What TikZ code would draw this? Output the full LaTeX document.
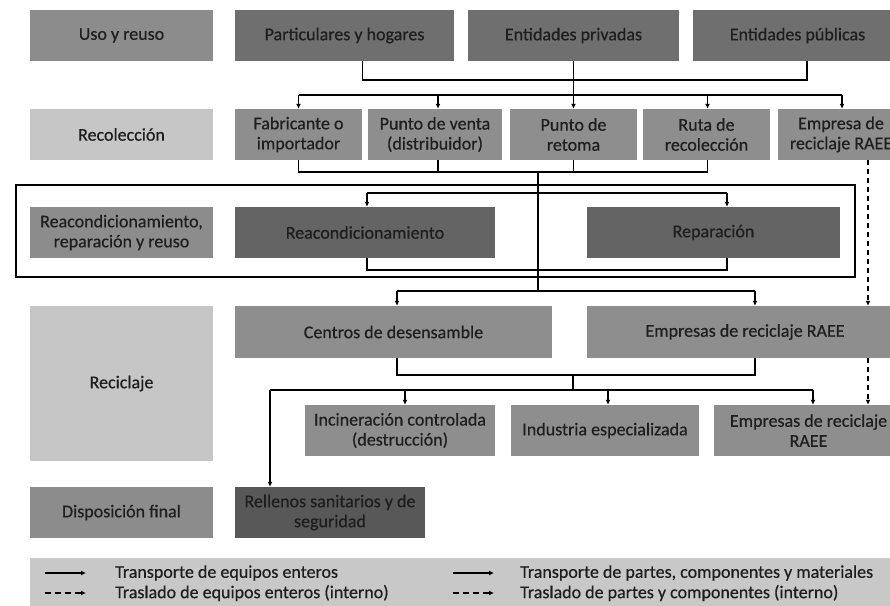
\documentclass[tikz,border=0pt]{standalone}
\usepackage{fontspec}
\setmainfont{Carlito}[FakeBold=0.5]
\usetikzlibrary{arrows.meta}

\definecolor{txt}{HTML}{1E1E1E}
\definecolor{stagemid}{HTML}{8C8C8C}
\definecolor{stagelight}{HTML}{C6C6C6}
\definecolor{actordark}{HTML}{6F6F6F}
\definecolor{actormid}{HTML}{8E8E8E}
\definecolor{procdark}{HTML}{646464}
\definecolor{finaldark}{HTML}{585858}
\definecolor{legendbg}{HTML}{C8C8C8}

\tikzset{
  box/.style={rectangle, inner sep=2pt, align=center, text=txt,
    font=\fontsize{18}{20}\selectfont},
  flow/.style={draw=black, line width=1.2pt, -{Latex[length=5pt,width=5pt]}},
  wire/.style={draw=black, line width=1.2pt},
  internal/.style={draw=black, line width=1.2pt, dash pattern=on 5pt off 4pt,
    -{Latex[length=5pt,width=5pt]}},
  legtext/.style={anchor=west, text=txt, inner sep=0pt,
    font=\fontsize{18}{20}\selectfont},
}

\begin{document}
\begin{tikzpicture}[x=1pt,y=-1pt]
\useasboundingbox (0,0) rectangle (890,605);
\clip (0,0) rectangle (890,605);

% stage labels on the left
\node[box, fill=stagemid,   minimum width=183pt, minimum height=51pt]  (uso)   at (121.5,35.5)  {Uso y reuso};
\node[box, fill=stagelight, minimum width=183pt, minimum height=51pt]  (rec)   at (121.5,134.5) {Recolección};
\node[box, fill=stagemid,   minimum width=183pt, minimum height=51pt]  (reac)  at (121.5,232.5) {Reacondicionamiento,\\reparación y reuso};
\node[box, fill=stagelight, minimum width=183pt, minimum height=155pt] (recic) at (121.5,383.5) {Reciclaje};
\node[box, fill=stagemid,   minimum width=183pt, minimum height=51pt]  (disp)  at (121.5,512.5) {Disposición final};

% use and reuse
\node[box, fill=actordark, minimum width=219pt, minimum height=51pt] (part) at (344.5,35.5) {Particulares y hogares};
\node[box, fill=actordark, minimum width=211pt, minimum height=51pt] (priv) at (573.5,35.5) {Entidades privadas};
\node[box, fill=actordark, minimum width=210pt, minimum height=51pt] (pub)  at (797.5,35.5) {Entidades públicas};

% collection
\node[box, fill=actormid, minimum width=127pt, minimum height=51pt] (fab)  at (298.5,134.5) {Fabricante o\\importador};
\node[box, fill=actormid, minimum width=134pt, minimum height=51pt] (pv)   at (435,134.5)   {Punto de venta\\(distribuidor)};
\node[box, fill=actormid, minimum width=127pt, minimum height=51pt] (pr)   at (573.5,134.5) {Punto de\\retoma};
\node[box, fill=actormid, minimum width=127pt, minimum height=51pt] (ruta) at (706.5,134.5) {Ruta de\\recolección};
\node[box, fill=actormid, minimum width=127pt, minimum height=51pt] (emp)  at (841,134.5)   {Empresa de\\reciclaje RAEE};

% refurbishing and repair
\node[box, fill=procdark, minimum width=260pt, minimum height=51pt] (recond) at (365,232.5)   {Reacondicionamiento};
\node[box, fill=procdark, minimum width=253pt, minimum height=51pt] (repar)  at (713.5,232.5) {Reparación};
\draw[line width=2.6pt] (16,185) rectangle (855,277);

% recycling
\node[box, fill=actormid, minimum width=317pt, minimum height=52pt] (cent)  at (393.5,332) {Centros de desensamble};
\node[box, fill=actormid, minimum width=316pt, minimum height=52pt] (empr)  at (745,332)   {Empresas de reciclaje RAEE};
\node[box, fill=actormid, minimum width=190pt, minimum height=51pt] (incin) at (400,430.5) {Incineración controlada\\(destrucción)};
\node[box, fill=actormid, minimum width=188pt, minimum height=51pt] (indus) at (605,430.5) {Industria especializada};
\node[box, fill=actormid, minimum width=189pt, minimum height=51pt] (empr2) at (808.5,430.5) {Empresas de reciclaje\\RAEE};

% final disposal
\node[box, fill=finaldark, minimum width=190pt, minimum height=51pt] (rell) at (330,512.5) {Rellenos sanitarios y de\\seguridad};

% junction points of the buses
\coordinate (busA) at (573.5,80);
\coordinate (busB) at (573.5,95);
\coordinate (busC) at (538,172);
\coordinate (busD) at (538,193);
\coordinate (busE) at (538,270);
\coordinate (busF) at (538,291);
\coordinate (busG) at (573,375);
\coordinate (busH) at (573,390);

% from users to collection
\draw[wire] (fab.east |- part.south) -- (fab.east |- busA) -- ([xshift=9.5pt]pub.south |- busA) -- ([xshift=9.5pt]pub.south);
\draw[flow] (priv.south) -- (pr.north);
\draw[wire] (fab.north |- busB) -- ([xshift=1pt]emp.north |- busB);
\draw[flow] (fab.north |- busB) -- (fab.north);
\draw[flow] ([xshift=3pt]pv.north |- busB) -- ([xshift=3pt]pv.north);
\draw[flow] ([xshift=1pt]ruta.north |- busB) -- ([xshift=1pt]ruta.north);
\draw[flow] ([xshift=1pt]emp.north |- busB) -- ([xshift=1pt]emp.north);

% from collection onwards
\draw[wire] (fab.south) -- (fab.south |- busC) -- ([xshift=1pt]ruta.south |- busC) -- ([xshift=1pt]ruta.south);
\draw[wire] ([xshift=3pt]pv.south) -- ([xshift=3pt]pv.south |- busC);
\draw[wire] (pr.south) -- (pr.south |- busC);
\draw[wire] (busC) -- (busF);

% refurbishing and repair loop
\draw[wire] ([xshift=2pt]recond.north |- busD) -- ([xshift=13.5pt]repar.north |- busD);
\draw[flow] ([xshift=2pt]recond.north |- busD) -- ([xshift=2pt]recond.north);
\draw[flow] ([xshift=13.5pt]repar.north |- busD) -- ([xshift=13.5pt]repar.north);
\draw[wire] ([xshift=2pt]recond.south) -- ([xshift=2pt]recond.south |- busE) -- ([xshift=13.5pt]repar.south |- busE) -- ([xshift=13.5pt]repar.south);

% to recycling
\draw[wire] ([xshift=3.5pt]cent.north |- busF) -- ([xshift=10pt]empr.north |- busF);
\draw[flow] ([xshift=3.5pt]cent.north |- busF) -- ([xshift=3.5pt]cent.north);
\draw[flow] ([xshift=10pt]empr.north |- busF) -- ([xshift=10pt]empr.north);
\draw[wire] ([xshift=3.5pt]cent.south) -- ([xshift=3.5pt]cent.south |- busG) -- ([xshift=10pt]empr.south |- busG) -- ([xshift=10pt]empr.south);
\draw[wire] (busG) -- (busH);
\draw[wire] ([xshift=-60pt]rell.north |- busH) -- ([xshift=4.5pt]empr2.north |- busH);
\draw[flow] ([xshift=5pt]incin.north |- busH) -- ([xshift=5pt]incin.north);
\draw[flow] ([xshift=3pt]indus.north |- busH) -- ([xshift=3pt]indus.north);
\draw[flow] ([xshift=4.5pt]empr2.north |- busH) -- ([xshift=4.5pt]empr2.north);
\draw[flow] ([xshift=-60pt]rell.north |- busH) -- ([xshift=-60pt]rell.north);

% internal transfers of whole equipment
\draw[internal] ([xshift=27pt]emp.south) -- ([xshift=27pt]emp.south |- empr.north);
\draw[internal] ([xshift=27pt]emp.south |- empr.south) -- ([xshift=27pt]emp.south |- empr2.north);

% legend
\node[fill=legendbg, minimum width=870pt, minimum height=52pt, inner sep=0pt, anchor=north west] (legend) at (30,558) {};
\coordinate (la1) at (45,573);  \coordinate (lb1) at (86,573);
\coordinate (la2) at (45,593);  \coordinate (lb2) at (86,593);
\coordinate (lc1) at (453,573); \coordinate (ld1) at (494,573);
\coordinate (lc2) at (453,593); \coordinate (ld2) at (494,593);
\draw[flow] (la1) -- (lb1);
\draw[internal, dash pattern=on 6pt off 4pt] (la2) -- (lb2);
\draw[flow] (lc1) -- (ld1);
\draw[internal, dash pattern=on 6pt off 4pt] (lc2) -- (ld2);
\node[legtext] (l1) at (115,573) {Transporte de equipos enteros};
\node[legtext] (l2) at (115,593) {Traslado de equipos enteros (interno)};
\node[legtext] (l3) at (520,573) {Transporte de partes, componentes y materiales};
\node[legtext] (l4) at (520,593) {Traslado de partes y componentes (interno)};
\end{tikzpicture}
\end{document}
